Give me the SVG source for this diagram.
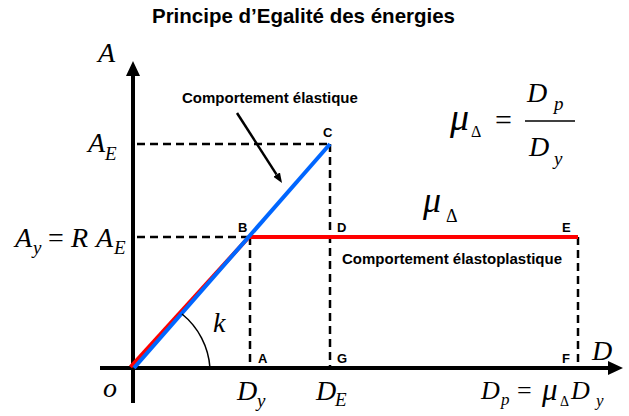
<svg xmlns="http://www.w3.org/2000/svg" width="629" height="416" viewBox="0 0 629 416">
<style>
.title{font-family:"Liberation Sans",Arial,sans-serif;font-weight:bold;font-size:20.5px;fill:#000}
.lbl{font-family:"Liberation Sans",Arial,sans-serif;font-weight:bold;font-size:15px;fill:#000}
.pt{font-family:"Liberation Sans",Arial,sans-serif;font-weight:bold;font-size:13px;fill:#000}
.m{font-family:"Liberation Serif","Times New Roman",serif;font-style:italic;font-size:28px;fill:#000}
.mu{font-family:"Liberation Serif","Times New Roman",serif;font-style:italic;font-size:19px}
.up{font-style:normal}
.dash{stroke:#000;stroke-width:2.5;stroke-dasharray:8 5;fill:none}
.axis{stroke:#000;stroke-width:4;fill:none}
</style>
<defs>
<marker id="axArrow" viewBox="0 0 15 14" markerWidth="15" markerHeight="14" refX="0" refY="7" orient="auto" markerUnits="userSpaceOnUse">
<path d="M0,0 L15,7 L0,14 z" fill="#000"/>
</marker>
<marker id="lblArrow" viewBox="0 0 10 8" markerWidth="10" markerHeight="8" refX="0" refY="4" orient="auto" markerUnits="userSpaceOnUse">
<path d="M0,0 L10,4 L0,8 z" fill="#000"/>
</marker>
</defs>
<text class="title" x="303.5" y="23" text-anchor="middle">Principe d’Egalité des énergies</text>
<g id="axes">
<line class="axis" x1="133" y1="403" x2="133" y2="76" marker-end="url(#axArrow)"/>
<line class="axis" x1="100" y1="368" x2="608" y2="368" marker-end="url(#axArrow)"/>
</g>
<g id="connectors">
<line class="dash" x1="137" y1="144" x2="330" y2="144"/>
<line class="dash" x1="330" y1="144" x2="330" y2="366"/>
<line class="dash" x1="137" y1="237" x2="250" y2="237"/>
<line class="dash" x1="250" y1="237" x2="250" y2="366"/>
<line class="dash" x1="578" y1="237" x2="578" y2="366"/>
<line x1="130.5" y1="367" x2="249" y2="237" stroke="#ff0000" stroke-width="4"/>
<line x1="249" y1="237" x2="578" y2="237" stroke="#ff0000" stroke-width="4"/>
<line x1="134" y1="368" x2="330" y2="144" stroke="#0066ff" stroke-width="4"/>
<line x1="237" y1="113" x2="276.6" y2="174.6" stroke="#000" stroke-width="2.5" marker-end="url(#lblArrow)"/>
<path d="M182,314 A76,76 0 0 1 210,368" stroke="#000" stroke-width="1.5" fill="none"/>
</g>
<g id="labels">
<text class="lbl" x="182" y="103">Comportement élastique</text>
<text class="lbl" x="342" y="264">Comportement élastoplastique</text>
<text class="pt" x="323" y="137">C</text>
<text class="pt" x="238" y="232">B</text>
<text class="pt" x="337" y="232">D</text>
<text class="pt" x="562" y="232">E</text>
<text class="pt" x="258" y="363">A</text>
<text class="pt" x="337" y="363">G</text>
<text class="pt" x="562" y="363">F</text>
</g>
<g id="math">
<text class="m" x="98" y="62">A</text>
<text class="m" x="88" y="152">A<tspan class="mu" y="160">E</tspan></text>
<text class="m" x="15" y="247">A<tspan class="mu" x="33" y="254">y</tspan><tspan class="up" x="48" y="247">=</tspan><tspan x="71" y="247">R</tspan><tspan x="96" y="247">A</tspan><tspan class="mu" x="114" y="254">E</tspan></text>
<text class="m" x="213" y="332">k</text>
<text class="m" x="103" y="397">o</text>
<text class="m" x="237" y="400">D<tspan class="mu" x="257" y="407">y</tspan></text>
<text class="m" x="316" y="400">D<tspan class="mu" x="335" y="406">E</tspan></text>
<text class="m" x="481" y="399" style="font-size:26px">D<tspan class="mu" x="501" y="405" style="font-size:17px">p</tspan><tspan class="up" x="517" y="399">=</tspan><tspan x="542" y="400" style="font-size:31px">μ</tspan><tspan class="mu up" x="560" y="406" style="font-size:14px">Δ</tspan><tspan x="571" y="399">D</tspan><tspan class="mu" x="596" y="406" style="font-size:17px">y</tspan></text>
<text class="m" x="592" y="360">D</text>
<text class="m" x="423" y="212" style="font-size:36px">μ<tspan class="mu up" x="446" y="222" style="font-size:18px">Δ</tspan></text>
<text class="m" x="450" y="130" style="font-size:38px">μ<tspan class="mu up" x="471" y="137" style="font-size:16px">Δ</tspan><tspan class="up" x="495" y="130" style="font-size:30px">=</tspan></text>
<line x1="525" y1="121" x2="575" y2="121" stroke="#000" stroke-width="1.5"/>
<text class="m" x="527" y="102">D<tspan class="mu" x="554" y="110">p</tspan></text>
<text class="m" x="529" y="156">D<tspan class="mu" x="554" y="165">y</tspan></text>
</g>
</svg>
